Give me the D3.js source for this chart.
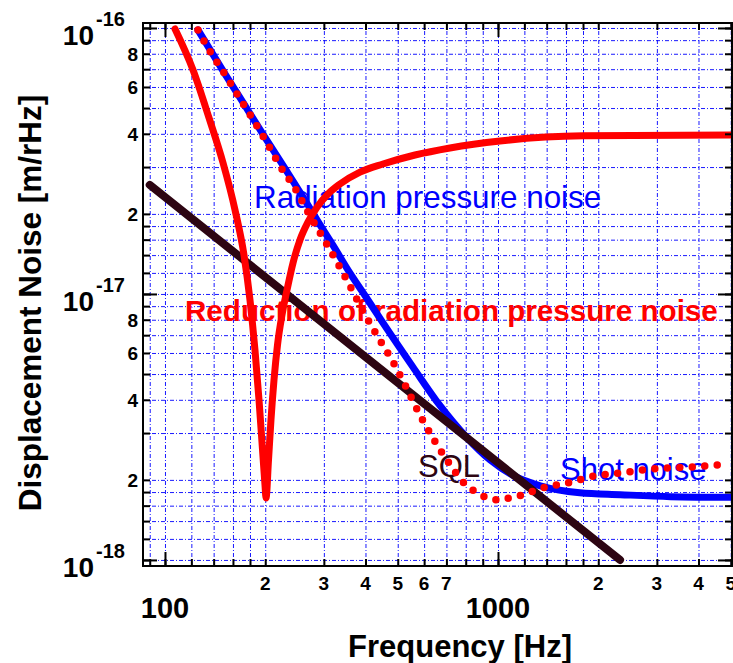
<!DOCTYPE html>
<html>
<head>
<meta charset="utf-8">
<script src="https://cdn.jsdelivr.net/npm/d3@7"></script>
<style>
  body { margin: 0; background: #fff; }
  text { font-family: "Liberation Sans", Arial, Helvetica, sans-serif; }
</style>
</head>
<body>
<svg id="chart" width="733" height="663"></svg>
<script>
// values: frequency [Hz] and displacement noise [m/rHz]
var sqlFreq = [90, 2325];
var sqlNoise = [2.57e-17, 1.0e-18];

var totalFreq = [125.6, 149.4, 171.5, 197, 231, 272.5, 286, 320, 359, 400, 451, 555, 670, 807, 946, 1110, 1340, 1760, 2330, 3300, 5040];
var totalNoise = [9.83e-17, 6.9e-17, 5.25e-17, 3.98e-17, 2.92e-17, 2.1e-17, 1.9e-17, 1.52e-17, 1.2e-17, 9.8e-18, 7.8e-18, 5.32e-18, 3.8e-18, 2.88e-18, 2.38e-18, 2.08e-18, 1.9e-18, 1.79e-18, 1.76e-18, 1.73e-18, 1.72e-18];

var reducFreq = [107.2, 121.4, 135.6, 149.4, 162.3, 172.7, 180, 186.3, 191.6, 196.3, 199.7, 201.1,
  204.6, 208.1, 212.5, 217.7, 224.6, 232.5, 242.3, 254.3, 268.9, 286.1, 308.7, 335.4, 385.1, 451.4, 563.3, 717.6, 1014, 1800, 5043];
var reducNoise = [9.91e-17, 6.95e-17, 4.59e-17, 3.11e-17, 2.07e-17, 1.4e-17, 9.49e-18, 6.16e-18, 3.99e-18, 2.59e-18, 1.91e-18, 1.71e-18,
  2.38e-18, 3.36e-18, 4.75e-18, 6.43e-18, 8.34e-18, 1.035e-17, 1.307e-17, 1.596e-17, 1.865e-17, 2.12e-17, 2.376e-17, 2.59e-17, 2.87e-17, 3.08e-17, 3.33e-17, 3.54e-17, 3.76e-17, 3.93e-17, 3.96e-17];

var dotFreq = [125.6, 137.4, 152.5, 168, 185, 202.4, 221.5, 245.7, 268.8, 292, 326, 354, 399, 436, 480, 522, 587, 642, 708, 796, 865, 933, 1007, 1079, 1172, 1374, 1623, 1956, 2309, 2725, 3285, 3905, 4642];
var dotNoise = [9.83e-17, 8.05e-17, 6.6e-17, 5.41e-17, 4.47e-17, 3.7e-17, 3.03e-17, 2.5e-17, 2.03e-17, 1.7e-17, 1.34e-17, 1.11e-17, 8.34e-18, 6.89e-18, 5.65e-18, 4.63e-18, 3.45e-18, 2.83e-18, 2.34e-18, 1.93e-18, 1.79e-18, 1.71e-18, 1.68e-18, 1.71e-18, 1.75e-18, 1.87e-18, 1.95e-18, 2.07e-18, 2.12e-18, 2.18e-18, 2.22e-18, 2.24e-18, 2.28e-18];

var xTicks = [90, 100, 120, 140, 160, 180, 200, 300, 400, 500, 600, 700, 800, 900,
  1000, 1200, 1400, 1600, 1800, 2000, 3000, 4000, 5000];
var xMajor = [100, 1000];
var xSmallLabels = [[200, "2"], [300, "3"], [400, "4"], [500, "5"], [600, "6"], [700, "7"],
  [2000, "2"], [3000, "3"], [4000, "4"], [5000, "5"]];

var mantissas = [1, 1.2, 1.4, 1.6, 1.8, 2, 3, 4, 5, 6, 7, 8, 9];
var decades = [-18, -17];
var yMajorExp = [-16, -17, -18];
var ySmallMant = [2, 4, 6, 8];

var svg = d3.select("#chart");
var pLeft = 143, pRight = 732, pTop = 23, pBottom = 566;

var x = d3.scaleLog().domain([85.9, 5043]).range([pLeft, pRight]);
var y = d3.scaleLog().domain([9.49e-19, 1.044e-16]).range([pBottom, pTop]);

var yTicks = [];
decades.forEach(function (e) {
  mantissas.forEach(function (m) { yTicks.push(m * Math.pow(10, e)); });
});
yTicks.push(1e-16);

// grid
var grid = svg.append("g").attr("class", "grid");
grid.append("g")
  .attr("transform", "translate(0," + pBottom + ")")
  .call(d3.axisBottom(x).tickValues(xTicks).tickSize(-(pBottom - pTop)).tickFormat(""));
grid.append("g")
  .attr("transform", "translate(" + pLeft + ",0)")
  .call(d3.axisLeft(y).tickValues(yTicks).tickSize(-(pRight - pLeft)).tickFormat(""));
grid.selectAll(".domain").remove();
grid.selectAll("line")
  .attr("stroke", "#0000ff")
  .attr("stroke-width", 1)
  .attr("stroke-opacity", 0.9)
  .attr("stroke-dasharray", "4,2,1,2");

// labels inside the plot
svg.append("text").attr("x", 254).attr("y", 208)
  .attr("font-size", 31.4).attr("fill", "#0000ff")
  .text("Radiation pressure noise");
svg.append("text").attr("x", 185).attr("y", 321)
  .attr("font-size", 29.6).attr("font-weight", "bold").attr("fill", "#ff0000")
  .text("Reduction of radiation pressure noise");
svg.append("text").attr("x", 418).attr("y", 477)
  .attr("font-size", 31).attr("fill", "#2d0512")
  .text("SQL");
svg.append("text").attr("x", 560).attr("y", 480)
  .attr("font-size", 31).attr("fill", "#0000ff")
  .text("Shot noise");

// curves
svg.append("clipPath").attr("id", "plotclip")
  .append("rect").attr("x", pLeft).attr("y", pTop)
  .attr("width", pRight - pLeft).attr("height", pBottom - pTop);

var line = d3.line()
  .x(function (d) { return x(d[0]); })
  .y(function (d) { return y(d[1]); })
  .curve(d3.curveMonotoneX);

var plot = svg.append("g").attr("clip-path", "url(#plotclip)");

plot.append("path")
  .attr("d", line(d3.zip(totalFreq, totalNoise)))
  .attr("fill", "none").attr("stroke", "#0000ff")
  .attr("stroke-width", 7).attr("stroke-linecap", "round");

plot.append("path")
  .attr("d", line(d3.zip(sqlFreq, sqlNoise)))
  .attr("fill", "none").attr("stroke", "#2d0512")
  .attr("stroke-width", 8).attr("stroke-linecap", "round");

plot.append("path")
  .attr("d", line(d3.zip(reducFreq, reducNoise)))
  .attr("fill", "none").attr("stroke", "#ff0000")
  .attr("stroke-width", 7).attr("stroke-linecap", "round")
  .attr("stroke-linejoin", "round");

plot.append("path")
  .attr("d", line(d3.zip(dotFreq, dotNoise)))
  .attr("fill", "none").attr("stroke", "#ff0000")
  .attr("stroke-width", 7.5).attr("stroke-linecap", "round")
  .attr("stroke-dasharray", "0,12.5");

// frame and ticks (pointing inwards)
var axes = svg.append("g").attr("class", "axes");
function ticks(axisFn, scale, vals, size, tr) {
  axes.append("g").attr("transform", tr)
    .call(axisFn(scale).tickValues(vals).tickSize(size).tickSizeOuter(0).tickFormat(""));
}
ticks(d3.axisBottom, x, xTicks, -7, "translate(0," + pBottom + ")");
ticks(d3.axisBottom, x, xMajor, -14, "translate(0," + pBottom + ")");
ticks(d3.axisTop, x, xTicks, -7, "translate(0," + pTop + ")");
ticks(d3.axisTop, x, xMajor, -14, "translate(0," + pTop + ")");
ticks(d3.axisLeft, y, yTicks, -7, "translate(" + pLeft + ",0)");
ticks(d3.axisLeft, y, [1e-16, 1e-17, 1e-18], -14, "translate(" + pLeft + ",0)");
ticks(d3.axisRight, y, yTicks, -7, "translate(" + pRight + ",0)");
ticks(d3.axisRight, y, [1e-16, 1e-17, 1e-18], -14, "translate(" + pRight + ",0)");
axes.selectAll(".domain").remove();
axes.selectAll("line").attr("stroke", "#000").attr("stroke-width", 2);
axes.append("rect").attr("x", pLeft).attr("y", pTop)
  .attr("width", pRight - pLeft).attr("height", pBottom - pTop)
  .attr("fill", "none").attr("stroke", "#000").attr("stroke-width", 2);

// tick labels
svg.selectAll(".xsmall").data(xSmallLabels).enter().append("text")
  .attr("class", "xsmall")
  .attr("x", function (d) { return x(d[0]); }).attr("y", 590)
  .attr("text-anchor", "middle").attr("font-size", 19).attr("font-weight", "bold")
  .text(function (d) { return d[1]; });
svg.selectAll(".xbig").data(xMajor).enter().append("text")
  .attr("class", "xbig")
  .attr("x", function (d) { return x(d); }).attr("y", 618)
  .attr("text-anchor", "middle").attr("font-size", 29).attr("font-weight", "bold")
  .text(function (d) { return d; });

var ySmall = [];
decades.forEach(function (e) {
  ySmallMant.forEach(function (m) { ySmall.push([m * Math.pow(10, e), m]); });
});
ySmall.forEach(function (d) {
  svg.append("text").attr("x", 138).attr("y", y(d[0]) + 7.5)
    .attr("text-anchor", "end").attr("font-size", 19).attr("font-weight", "bold")
    .text(d[1]);
});
yMajorExp.forEach(function (e) {
  var ty = y(Math.pow(10, e));
  svg.append("text").attr("x", 94).attr("y", ty + 17)
    .attr("text-anchor", "end").attr("font-size", 28).attr("font-weight", "bold")
    .text("10");
  svg.append("text").attr("x", 96).attr("y", ty - 2)
    .attr("font-size", 20).attr("font-weight", "bold")
    .text(String(e));
});

// axis titles
svg.append("text").attr("x", 460).attr("y", 657)
  .attr("text-anchor", "middle").attr("font-size", 31).attr("font-weight", "bold")
  .text("Frequency [Hz]");
svg.append("text")
  .attr("transform", "translate(41,303) rotate(-90)")
  .attr("text-anchor", "middle").attr("font-size", 31.5).attr("font-weight", "bold")
  .text("Displacement Noise [m/rHz]");
</script>
</body>
</html>
